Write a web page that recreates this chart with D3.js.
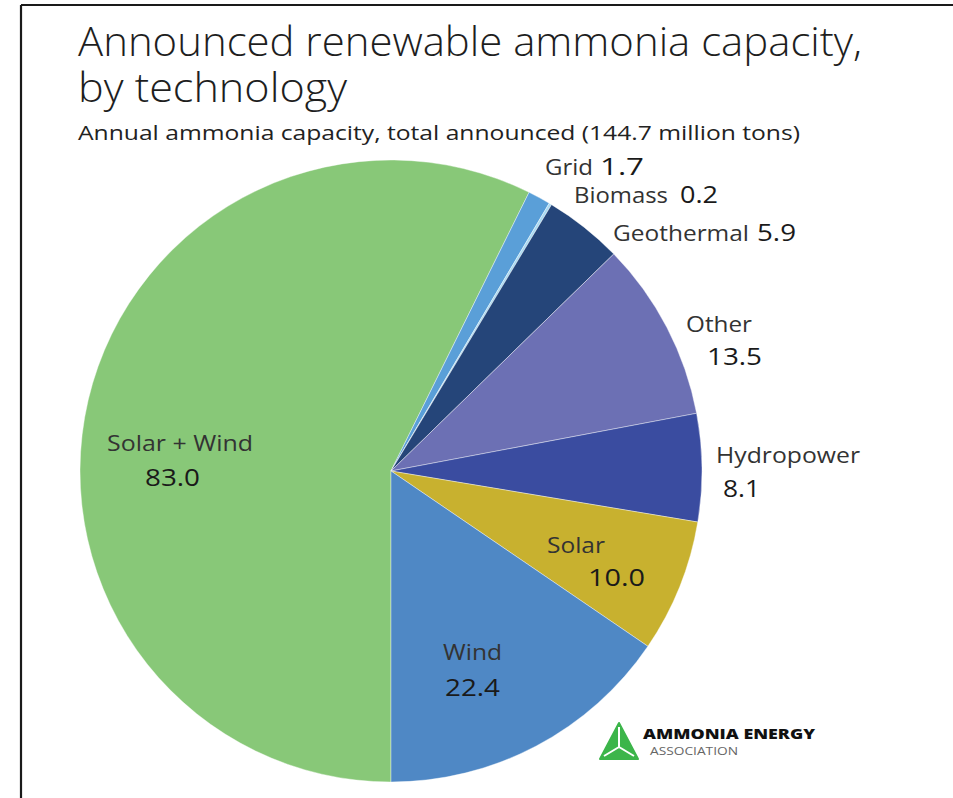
<!DOCTYPE html>
<html>
<head>
<meta charset="utf-8">
<script src="https://cdn.jsdelivr.net/npm/d3@7/dist/d3.min.js"></script>
<style>
  html, body { margin: 0; padding: 0; background: #fff; }
  svg { display: block; }
  text { font-family: "Open Sans", Lato, "Noto Sans", sans-serif; }
</style>
</head>
<body>
<svg id="chart" width="953" height="798"></svg>
<script>
// ---- data ----
const categories = ["Solar + Wind", "Grid", "Biomass", "Geothermal", "Other", "Hydropower", "Solar", "Wind"];
const values = [83.0, 1.7, 0.2, 5.9, 13.5, 8.1, 10.0, 22.4];
const valueLabels = ["83.0", "1.7", "0.2", "5.9", "13.5", "8.1", "10.0", "22.4"];
const colors = ["#88c878", "#5a9fd8", "#a9daf2", "#254579", "#6c70b4", "#3a4ca0", "#c8b12f", "#4f88c5"];
const title = ["Announced renewable ammonia capacity,", "by technology"];
const subtitle = "Annual ammonia capacity, total announced (144.7 million tons)";

// ---- layout: label offsets from the pie centre, and rendered widths ----
const labelLayout = {
  "Solar + Wind": { x: -284, y: -20, w: 146, vx: -246, vy: 15, vw: 55 },
  "Grid":         { x: 154, y: -296, w: 48, vx: 209, vy: -296, vw: 44 },
  "Biomass":      { x: 183, y: -268, w: 94, vx: 289, vy: -268, vw: 38 },
  "Geothermal":   { x: 222, y: -230, w: 136, vx: 366, vy: -230, vw: 39 },
  "Other":        { x: 295, y: -139, w: 66, vx: 316, vy: -106, vw: 55 },
  "Hydropower":   { x: 325, y: -8, w: 144, vx: 332, vy: 26, vw: 37 },
  "Solar":        { x: 156, y: 82, w: 58, vx: 197, vy: 115, vw: 57 },
  "Wind":         { x: 52, y: 189, w: 59, vx: 54, vy: 225, vw: 55 }
};

const svg = d3.select("#chart");
const W = 953, H = 798;

// frame (top and left rules)
svg.append("line").attr("x1", 21).attr("x2", W).attr("y1", 5).attr("y2", 5)
  .attr("stroke", "#1a1a1a").attr("stroke-width", 2.2);
svg.append("line").attr("x1", 21).attr("x2", 21).attr("y1", 5).attr("y2", H)
  .attr("stroke", "#1a1a1a").attr("stroke-width", 2.2);

function txt(parent, s, x, y, size, w, opts = {}) {
  const t = parent.append("text").attr("x", x).attr("y", y).attr("font-size", size)
    .attr("fill", opts.fill || "#222").text(s);
  if (opts.weight) t.attr("font-weight", opts.weight);
  if (w) t.attr("textLength", w).attr("lengthAdjust", "spacingAndGlyphs");
  return t;
}

// title (one text element, two lines)
const tt = svg.append("text").attr("font-size", 41).attr("font-weight", 300).attr("fill", "#1e1e1e");
tt.append("tspan").attr("x", 78).attr("y", 56).attr("textLength", 784)
  .attr("lengthAdjust", "spacingAndGlyphs").text(title[0]);
tt.append("tspan").attr("x", 78).attr("y", 102).attr("textLength", 269)
  .attr("lengthAdjust", "spacingAndGlyphs").text(title[1]);
txt(svg, subtitle, 78, 140, 19.5, 722, { fill: "#222" });

// pie
const cx = 391, cy = 471, R = 311;
const pie = d3.pie().sort(null).value(d => d.value).startAngle(Math.PI).endAngle(3 * Math.PI);
const arc = d3.arc().innerRadius(0).outerRadius(R);
const data = categories.map((c, i) => ({ name: c, value: values[i], label: valueLabels[i], color: colors[i] }));
const g = svg.append("g").attr("transform", `translate(${cx},${cy})`);
g.selectAll("path").data(pie(data)).enter().append("path")
  .attr("d", arc).attr("fill", d => d.data.color)
  .attr("stroke", "#ffffff").attr("stroke-width", 0.4);

// labels
const lg = svg.append("g").attr("transform", `translate(${cx},${cy})`);
data.forEach(d => {
  const L = labelLayout[d.name];
  txt(lg, d.name, L.x, L.y, 21, L.w, { fill: "#333" });
  txt(lg, d.label, L.vx, L.vy, 24.5, L.vw, { fill: "#1a1a1a" });
});

// logo
const logo = svg.append("g").attr("transform", "translate(600,722)");
logo.append("path").attr("d", "M19,1 L38,37 L0,37 Z").attr("fill", "#3cb54a")
  .attr("stroke", "#3cb54a").attr("stroke-width", 2).attr("stroke-linejoin", "round");
logo.append("path").attr("d", "M19,5 L19,25 M19,25 L4,34 M19,25 L34,34")
  .attr("stroke", "#ffffff").attr("stroke-width", 2).attr("fill", "none");
txt(logo, "AMMONIA ENERGY", 43, 17, 14.5, 172, { weight: 800, fill: "#111" });
txt(logo, "ASSOCIATION", 50, 33, 10.5, 88, { fill: "#666" });
</script>
</body>
</html>
